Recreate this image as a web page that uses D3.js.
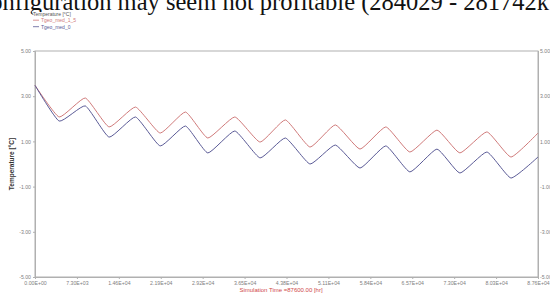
<!DOCTYPE html>
<html lang="en">
<head>
    <meta charset="UTF-8">
    <title>Temperature chart</title>
    <style>
        body { margin: 0; background: #fff; }
        svg { display: block; }
    </style>
</head>
<body>
    <div id="chart"></div>
    <script src="https://d3js.org/d3.v7.min.js"></script>
    <script>
        // Data (time in hr, temperature in deg C)
        const times = [0, 4200, 8760, 12900, 17500, 21800, 26200, 30100, 34800, 39200,
                       43600, 47900, 52300, 56600, 61100, 65300, 70000, 74000, 78700, 82900, 87600];
        const tgeo15 = [3.48, 2.08, 2.92, 1.64, 2.52, 1.37, 2.30, 1.15, 2.08, 0.97,
                        1.95, 0.75, 1.73, 0.66, 1.64, 0.53, 1.50, 0.49, 1.42, 0.31, 1.37];
        const tgeo0 = [3.48, 1.90, 2.57, 1.19, 2.08, 0.80, 1.68, 0.49, 1.46, 0.27,
                       1.15, 0.00, 0.84, -0.18, 0.80, -0.35, 0.66, -0.40, 0.53, -0.62, 0.31];
        const xTicks = [0, 7300, 14600, 21900, 29200, 36500, 43800, 51100, 58400, 65700, 73000, 80300, 87600];
        const yTicks = [5, 3, 1, -1, -3, -5];
        const seriesNames = ['Tgeo_med_1_5', 'Tgeo_med_0'];
        const seriesColors = ['#d07a7a', '#5a5a96'];

        const width = 550, height = 294;
        const plot = { left: 35, right: 538, top: 51, bottom: 277 };

        const svg = d3.select('#chart').append('svg')
            .attr('width', width)
            .attr('height', height);

        // cropped document text above the chart
        svg.append('text')
            .attr('x', 549)
            .attr('y', 10)
            .attr('text-anchor', 'end')
            .style('font-family', "'Liberation Serif', 'Times New Roman', serif")
            .style('font-size', '24.5px')
            .style('fill', '#111')
            .text('configuration may seem not profitable (284029 - 281742k');

        const x = d3.scaleLinear().domain([0, 87600]).range([plot.left, plot.right]);
        const y = d3.scaleLinear().domain([-5, 5]).range([plot.bottom, plot.top]);

        const fmtX = d => d.toExponential(2).replace('e', 'E').replace(/E([+-])(\d)$/, 'E$10$2');
        const fmtY = d => d.toFixed(2);

        // frame
        svg.append('rect')
            .attr('x', plot.left)
            .attr('y', plot.top)
            .attr('width', plot.right - plot.left)
            .attr('height', plot.bottom - plot.top)
            .attr('fill', 'none')
            .attr('stroke', '#b0b0b0')
            .attr('stroke-width', 1);

        const yLeft = svg.append('g')
            .attr('transform', `translate(${plot.left},0)`)
            .call(d3.axisLeft(y).tickValues(yTicks).tickFormat(fmtY).tickSize(2).tickPadding(2));
        const yRight = svg.append('g')
            .attr('transform', `translate(${plot.right},0)`)
            .call(d3.axisRight(y).tickValues(yTicks).tickFormat(fmtY).tickSize(1).tickPadding(1));
        const xAxis = svg.append('g')
            .attr('transform', `translate(0,${plot.bottom})`)
            .call(d3.axisBottom(x).tickValues(xTicks).tickFormat(fmtX).tickSize(2).tickPadding(2));

        [yLeft, yRight, xAxis].forEach(g => {
            g.select('.domain').attr('stroke', '#b0b0b0');
            g.selectAll('.tick line').attr('stroke', '#b0b0b0');
            g.selectAll('.tick text')
                .style('font-family', "'Liberation Sans', Arial, sans-serif")
                .style('font-size', '5.2px')
                .style('fill', '#808080');
        });

        // axis titles
        svg.append('text')
            .attr('transform', `translate(14,${(plot.top + plot.bottom) / 2}) rotate(-90)`)
            .attr('text-anchor', 'middle')
            .style('font-family', "'Liberation Sans', Arial, sans-serif")
            .style('font-size', '6.5px')
            .style('font-weight', 'bold')
            .style('fill', '#333')
            .text('Temperature [°C]');

        svg.append('text')
            .attr('x', 281)
            .attr('y', 292)
            .attr('text-anchor', 'middle')
            .style('font-family', "'Liberation Sans', Arial, sans-serif")
            .style('font-size', '6px')
            .style('fill', '#d04848')
            .text('Simulation Time =87600.00 [hr]');

        // lines
        const line = d3.line()
            .x(d => x(d[0]))
            .y(d => y(d[1]))
            .curve(d3.curveCardinal.tension(0.55));

        [tgeo15, tgeo0].forEach((vals, i) => {
            svg.append('path')
                .datum(times.map((t, j) => [t, vals[j]]))
                .attr('d', line)
                .attr('fill', 'none')
                .attr('stroke', seriesColors[i])
                .attr('stroke-width', 1);
        });

        // legend (white halo so it stays readable under the cropped text)
        const legend = svg.append('g')
            .style('font-family', "'Liberation Sans', Arial, sans-serif")
            .style('font-size', '5px')
            .style('stroke', '#fff')
            .style('stroke-width', '2px')
            .style('paint-order', 'stroke');
        legend.append('text')
            .attr('x', 33)
            .attr('y', 16)
            .style('fill', '#555')
            .text('Temperature [°C]');
        seriesNames.forEach((name, i) => {
            const ly = 22 + i * 6.5;
            legend.append('line')
                .attr('x1', 33).attr('x2', 39)
                .attr('y1', ly - 1.8).attr('y2', ly - 1.8)
                .style('stroke', seriesColors[i])
                .style('stroke-width', '0.8px');
            legend.append('text')
                .attr('x', 41)
                .attr('y', ly)
                .style('fill', seriesColors[i])
                .text(name);
        });
    </script>
</body>
</html>
